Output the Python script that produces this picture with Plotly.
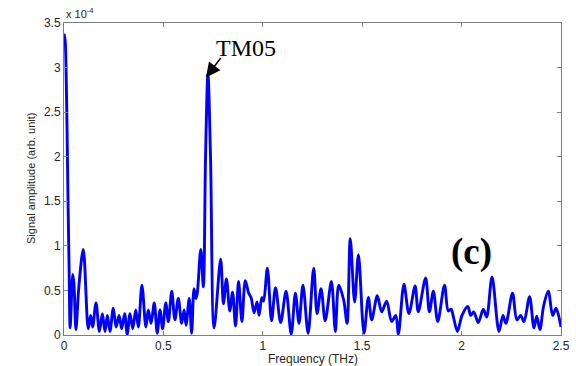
import plotly.graph_objects as go

# Spectrum of the transmitted pulse (amplitude in units of 1e-4)
freq_thz = [
    0.000, 0.006, 0.011, 0.016, 0.021, 0.026, 0.031, 0.044, 0.050, 0.060,
    0.075, 0.097, 0.122, 0.134, 0.144, 0.161, 0.178, 0.193, 0.206, 0.218,
    0.231, 0.248, 0.262, 0.277, 0.290, 0.305, 0.318, 0.332, 0.346, 0.361,
    0.374, 0.392, 0.412, 0.424, 0.438, 0.454, 0.469, 0.483, 0.496, 0.512,
    0.525, 0.542, 0.558, 0.575, 0.592, 0.604, 0.614, 0.630, 0.642, 0.654,
    0.664, 0.671, 0.688, 0.701, 0.712, 0.724, 0.737, 0.755, 0.788, 0.802,
    0.817, 0.834, 0.848, 0.863, 0.878, 0.895, 0.912, 0.929, 0.941, 0.956,
    0.971, 0.981, 0.995, 1.004, 1.023, 1.044, 1.064, 1.090, 1.117, 1.143,
    1.164, 1.182, 1.202, 1.228, 1.256, 1.273, 1.293, 1.314, 1.345, 1.365,
    1.382, 1.407, 1.424, 1.440, 1.462, 1.481, 1.509, 1.531, 1.548, 1.576,
    1.598, 1.623, 1.648, 1.669, 1.682, 1.710, 1.735, 1.766, 1.782, 1.819,
    1.838, 1.858, 1.880, 1.914, 1.933, 1.947, 1.959, 1.979, 2.002, 2.031,
    2.046, 2.061, 2.084, 2.109, 2.126, 2.153, 2.188, 2.208, 2.223, 2.256,
    2.278, 2.297, 2.314, 2.342, 2.364, 2.378, 2.394, 2.412, 2.436, 2.458,
    2.475, 2.500,
]
amplitude_e4 = [
    3.38, 3.30, 2.90, 2.20, 1.40, 0.70, 0.08, 0.68, 0.58, 0.06,
    0.55, 0.96, 0.07, 0.22, 0.09, 0.36, 0.04, 0.24, 0.04, 0.22,
    0.04, 0.30, 0.09, 0.22, 0.07, 0.24, 0.01, 0.24, 0.07, 0.28,
    0.09, 0.56, 0.09, 0.28, 0.13, 0.36, 0.02, 0.28, 0.07, 0.36,
    0.15, 0.49, 0.17, 0.41, 0.13, 0.28, 0.11, 0.41, 0.02, 0.52,
    0.41, 0.48, 0.96, 0.54, 2.00, 2.93, 2.00, 0.08, 0.85, 0.35,
    0.63, 0.27, 0.48, 0.10, 0.60, 0.15, 0.61, 0.47, 0.42, 0.25,
    0.37, 0.22, 0.42, 0.38, 0.75, 0.16, 0.53, 0.14, 0.49, 0.01,
    0.47, 0.13, 0.56, 0.02, 0.75, 0.24, 0.52, 0.16, 0.60, 0.04,
    0.56, 0.39, 0.13, 1.08, 0.37, 0.90, 0.02, 0.42, 0.17, 0.44,
    0.26, 0.38, 0.15, 0.22, 0.01, 0.57, 0.24, 0.55, 0.26, 0.64,
    0.26, 0.49, 0.15, 0.56, 0.27, 0.29, 0.20, 0.04, 0.22, 0.32,
    0.22, 0.26, 0.14, 0.29, 0.20, 0.65, 0.04, 0.22, 0.13, 0.47,
    0.17, 0.22, 0.15, 0.43, 0.08, 0.21, 0.06, 0.32, 0.49, 0.22,
    0.30, 0.09,
]
x_ticks = [0, 0.5, 1, 1.5, 2, 2.5]
y_ticks = [0, 0.5, 1, 1.5, 2, 2.5, 3, 3.5]

peak_label = "TM05"
peak_freq = 0.714
peak_amp = 2.89

sans = "Liberation Sans, Arial, sans-serif"
serif = "Liberation Serif, Times New Roman, serif"
axis_grey = "#7f7f7f"
text_col = "#262626"

fig = go.Figure()
fig.add_trace(go.Scatter(
    x=freq_thz, y=amplitude_e4, mode="lines",
    line=dict(color="#0000ff", width=2.9, shape="spline", smoothing=0.9),
    hoverinfo="skip", showlegend=False,
))

axis_common = dict(
    showgrid=False, zeroline=False, showline=True, linecolor=axis_grey,
    linewidth=1, mirror="ticks", ticks="inside", ticklen=4, tickcolor=axis_grey,
    automargin=False,
    tickfont=dict(family=sans, size=12, color=text_col),
)
fig.update_xaxes(range=[0, 2.5], tickvals=x_ticks,
                 ticktext=[f"{v:g}" for v in x_ticks], **axis_common)
fig.update_yaxes(range=[0, 3.5], tickvals=y_ticks,
                 ticktext=[f"{v:g}" for v in y_ticks], **axis_common)

annotations = [
    # axis titles
    dict(text="Frequency (THz)", xref="paper", yref="paper", x=0.5, y=0,
         yshift=-15, xanchor="center", yanchor="top", showarrow=False,
         font=dict(family=sans, size=12, color=text_col)),
    dict(text="Signal amplitude (arb. unit)", xref="paper", yref="paper",
         x=0, xshift=-33, y=0.5, textangle=-90, xanchor="center",
         yanchor="middle", showarrow=False,
         font=dict(family=sans, size=11, color=text_col)),
    # exponent multiplier
    dict(text="x 10<sup>-4</sup>", xref="paper", yref="paper", x=0, y=1,
         yshift=1, xanchor="left", yanchor="bottom", showarrow=False,
         font=dict(family=sans, size=11, color=text_col)),
    # arrow pointing at the mode peak
    dict(text="", x=peak_freq, y=peak_amp, xref="x", yref="y",
         showarrow=True, ax=16, ay=-21, arrowhead=2, arrowsize=1.8,
         arrowwidth=1.6, arrowcolor="black"),
    # mode label
    dict(text=peak_label, x=peak_freq, y=peak_amp, xref="x", yref="y",
         xshift=40, yshift=29, showarrow=False, xanchor="center",
         yanchor="middle", font=dict(family=serif, size=24, color="black")),
    # panel tag
    dict(text="<b>(c)</b>", x=2.05, y=0.93, xref="x", yref="y",
         showarrow=False, xanchor="center", yanchor="middle",
         font=dict(family=serif, size=37, color="black")),
]

fig.update_layout(
    width=576, height=366,
    margin=dict(l=64, r=15, t=23, b=31),
    paper_bgcolor="white", plot_bgcolor="white",
    annotations=annotations,
)

fig.write_html("out.html")
